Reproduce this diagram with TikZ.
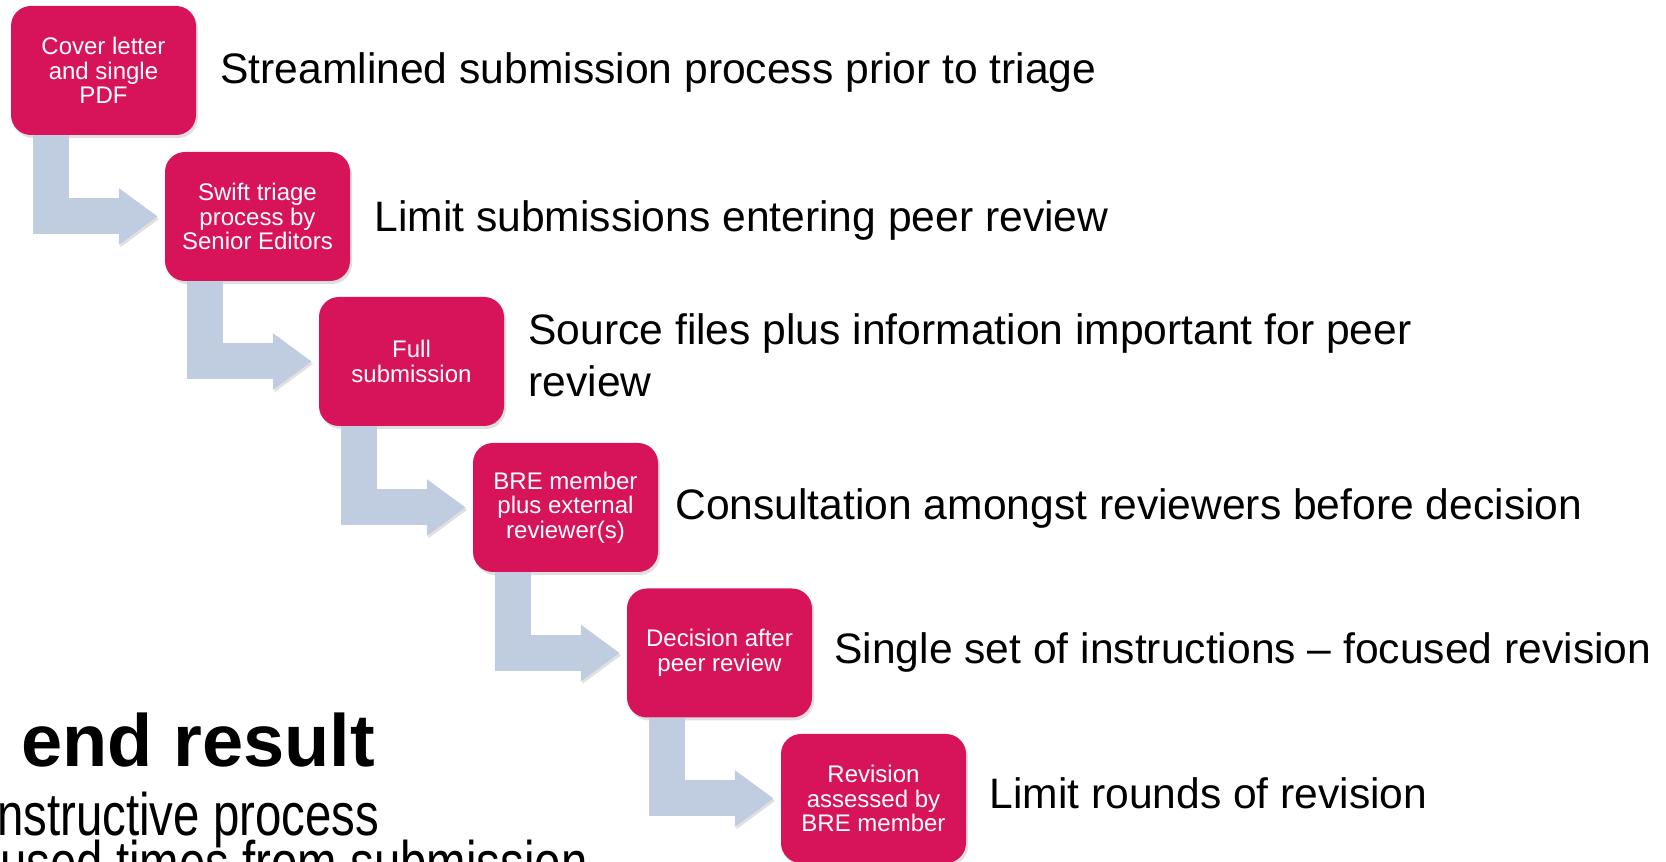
\documentclass[tikz,border=0pt]{standalone}
\usepackage{fontspec}
\setmainfont{Liberation Sans}
\definecolor{StepColor}{RGB}{215,20,90}
\definecolor{FlowColor}{RGB}{192,204,224}
\usetikzlibrary{positioning, arrows.meta, shadows, calc}
\tikzstyle{stepbox} = [rectangle, rounded corners=20pt, fill=StepColor, text=white, minimum width=185pt, minimum height=129pt, align=center, inner sep=0pt, font=\fontsize{24}{24.5}\selectfont, drop shadow={shadow xshift=2pt, shadow yshift=-3pt, opacity=0.25}]
\tikzstyle{flow} = [line width=36pt, FlowColor, line join=miter, -{Triangle[length=39pt, width=54pt]}, shorten >=7pt, preaction={draw=black, opacity=0.12, transform canvas={shift={(1.5pt,-2.5pt)}}}]
\tikzstyle{desc} = [anchor=base west, inner sep=0pt, align=left, font=\fontsize{42.6}{52}\selectfont]

\begin{document}
\begin{tikzpicture}[x=1pt, y=1pt]
    \useasboundingbox (0,0) rectangle (1666,862);
    \clip (0,0) rectangle (1666,862);

    % Steps of the workflow
    \node[stepbox] (cover) at (103.5,791.5) {Cover letter\\and single\\PDF};
    \node[stepbox] (triage) at (257.5,645.5) {Swift triage\\process by\\Senior Editors};
    \node[stepbox] (fullsub) at (411.5,500.5) {Full\\submission};
    \node[stepbox] (reviewers) at (565.5,354.5) {BRE member\\plus external\\reviewer(s)};
    \node[stepbox] (decision) at (719.5,209) {Decision after\\peer review};
    \node[stepbox] (revision) at (873.5,63.5) {Revision\\assessed by\\BRE member};

    % Bent arrows between steps
    \draw[flow] ($(cover.south west)+(40,0)$) |- (triage.west);
    \draw[flow] ($(triage.south west)+(40,0)$) |- (fullsub.west);
    \draw[flow] ($(fullsub.south west)+(40,0)$) |- (reviewers.west);
    \draw[flow] ($(reviewers.south west)+(40,0)$) |- (decision.west);
    \draw[flow] ($(decision.south west)+(40,0)$) |- (revision.west);

    % Descriptions
    \node[desc] (coverdesc) at ($(cover.east)+(24,-13.5)$) {Streamlined submission process prior to triage};
    \node[desc] (triagedesc) at ($(triage.east)+(24,-15.5)$) {Limit submissions entering peer review};
    \node[desc] (fullsubdesc) at ($(fullsub.east)+(24,-35)$) {Source files plus information important for peer\\review};
    \node[desc] (reviewersdesc) at ($(reviewers.east)+(17,-12.5)$) {Consultation amongst reviewers before decision};
    \node[desc] (decisiondesc) at ($(decision.east)+(22,-11)$) {Single set of instructions -- focused revision};
    \node[desc] (revisiondesc) at ($(revision.east)+(23,-10)$) {Limit rounds of revision};

    % Result text (cut at the edge)
    \node[anchor=base west, inner sep=0pt, text depth=0pt, font=\fontsize{74}{74}\selectfont\bfseries] (result) at (21,95) {end result};
    \node[anchor=base west, inner sep=0pt, text height=38pt, xscale=0.79, font=\fontsize{60}{60}\selectfont] (construct) at (-3,26) {nstructive process};
    \node[anchor=base west, inner sep=0pt, text height=38pt, xscale=0.79, font=\fontsize{60}{60}\selectfont] (times) at (0,-22) {used times from submission};
\end{tikzpicture}
\end{document}
